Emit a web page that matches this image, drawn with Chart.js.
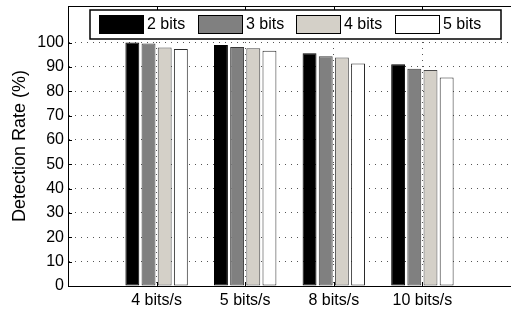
<!DOCTYPE html>
<html>
<head>
<meta charset="utf-8">
<script src="https://cdn.jsdelivr.net/npm/chart.js@4.4.1/dist/chart.umd.min.js"></script>
<style>
html,body{margin:0;padding:0;background:#fff;}
#wrap{position:relative;width:511px;height:312px;}
</style>
</head>
<body>
<div id="wrap"><canvas id="c" width="511" height="312"></canvas></div>
<script>
// ---- data ----
const categories = ['4 bits/s', '5 bits/s', '8 bits/s', '10 bits/s'];
const seriesNames = ['2 bits', '3 bits', '4 bits', '5 bits'];
const bits2 = [100, 99.0, 95.6, 91.1];
const bits3 = [99.6, 98.2, 94.4, 89.2];
const bits4 = [98.0, 97.6, 93.8, 88.7];
const bits5 = [97.3, 96.6, 91.4, 85.6];
const yTickValues = [0, 10, 20, 30, 40, 50, 60, 70, 80, 90, 100];

// ---- styling ----
const fills = ['#000000', '#808080', '#d4d0c8', '#ffffff'];
const edges = ['#000000', '#3a3a3a', '#4a4a4a', '#2a2a2a'];
const FONT = "'Liberation Sans', Arial, Helvetica, sans-serif";

const axisLabels = [''].concat(categories, ['']);
const pad = arr => [null].concat(arr, [null]);
const allSeries = [bits2, bits3, bits4, bits5];

const datasets = allSeries.map((s, i) => ({
  label: seriesNames[i],
  data: pad(s),
  backgroundColor: fills[i],
  borderColor: edges[i],
  borderWidth: 1,
  borderSkipped: false,
  barPercentage: 0.86,
  categoryPercentage: 0.73
}));

const frame = {
  id: 'frame',
  afterDatasetsDraw(chart) {
    const ctx = chart.ctx;
    const a = chart.chartArea;
    const xs = chart.scales.x, ys = chart.scales.y;
    ctx.save();
    ctx.strokeStyle = '#000';
    ctx.lineWidth = 1;
    ctx.beginPath();
    ctx.moveTo(a.left, Math.round(a.top) + 0.5);
    ctx.lineTo(a.right, Math.round(a.top) + 0.5);
    ctx.stroke();
    for (let i = 1; i <= categories.length; i++) {
      const px = Math.round(xs.getPixelForValue(i)) + 0.5;
      ctx.beginPath();
      ctx.moveTo(px, a.top); ctx.lineTo(px, a.top + 4);
      ctx.moveTo(px, a.bottom); ctx.lineTo(px, a.bottom - 4);
      ctx.stroke();
    }
    yTickValues.forEach(v => {
      const py = Math.round(ys.getPixelForValue(v)) + 0.5;
      ctx.beginPath();
      ctx.moveTo(a.left, py); ctx.lineTo(a.left + 4, py);
      ctx.stroke();
    });
    ctx.restore();
  },
  afterDraw(chart) {
    const ctx = chart.ctx;
    const boxL = 90, boxT = 10, boxW = 411, boxH = 29;
    ctx.save();
    ctx.fillStyle = '#fff';
    ctx.fillRect(boxL, boxT, boxW, boxH);
    ctx.strokeStyle = '#000';
    ctx.lineWidth = 1.5;
    ctx.strokeRect(boxL, boxT, boxW, boxH);
    ctx.font = '16px ' + FONT;
    ctx.textBaseline = 'middle';
    chart.data.datasets.forEach((ds, i) => {
      const sx = Math.round(99 + i * 98.7);
      ctx.fillStyle = ds.backgroundColor;
      ctx.fillRect(sx, 15.5, 44, 18);
      ctx.lineWidth = 1;
      ctx.strokeStyle = '#000';
      ctx.strokeRect(sx + 0.5, 15.5, 44, 18);
      ctx.fillStyle = '#000';
      ctx.fillText(ds.label, sx + 48, 25);
    });
    ctx.restore();
  }
};

new Chart(document.getElementById('c'), {
  type: 'bar',
  data: { labels: axisLabels, datasets },
  options: {
    responsive: false,
    animation: false,
    devicePixelRatio: 1,
    layout: { padding: { top: 6, right: 0, bottom: 0, left: 0 } },
    plugins: { legend: { display: false }, tooltip: { enabled: false } },
    scales: {
      x: {
        offset: false,
        grid: {
          offset: false,
          color: ctx => (ctx.index === 0 || ctx.index === axisLabels.length - 1) ? 'rgba(0,0,0,0)' : '#555',
          lineWidth: 1,
          drawTicks: false
        },
        border: { display: true, color: '#000', width: 1, dash: [1, 5] },
        ticks: { color: '#000', font: { family: FONT, size: 16 }, padding: 5, maxRotation: 0, autoSkip: false },
        afterFit: s => { s.height = 26; s.paddingLeft = 0; s.paddingRight = 0; }
      },
      y: {
        min: 0, max: 115,
        afterBuildTicks: s => { s.ticks = yTickValues.map(v => ({ value: v })); },
        grid: {
          color: ctx => (ctx.tick && ctx.tick.value === 0) ? 'rgba(0,0,0,0)' : '#555',
          lineWidth: 1,
          drawTicks: false
        },
        border: { display: true, color: '#000', width: 1, dash: [1, 5] },
        ticks: { color: '#000', font: { family: FONT, size: 16 }, padding: 4 },
        title: {
          display: true,
          text: 'Detection Rate (%)',
          color: '#000',
          font: { family: FONT, size: 18 },
          padding: { top: 9, bottom: 0 }
        },
        afterFit: s => { s.width = 68; s.paddingTop = 0; s.paddingBottom = 0; }
      }
    }
  },
  plugins: [frame]
});
</script>
</body>
</html>
